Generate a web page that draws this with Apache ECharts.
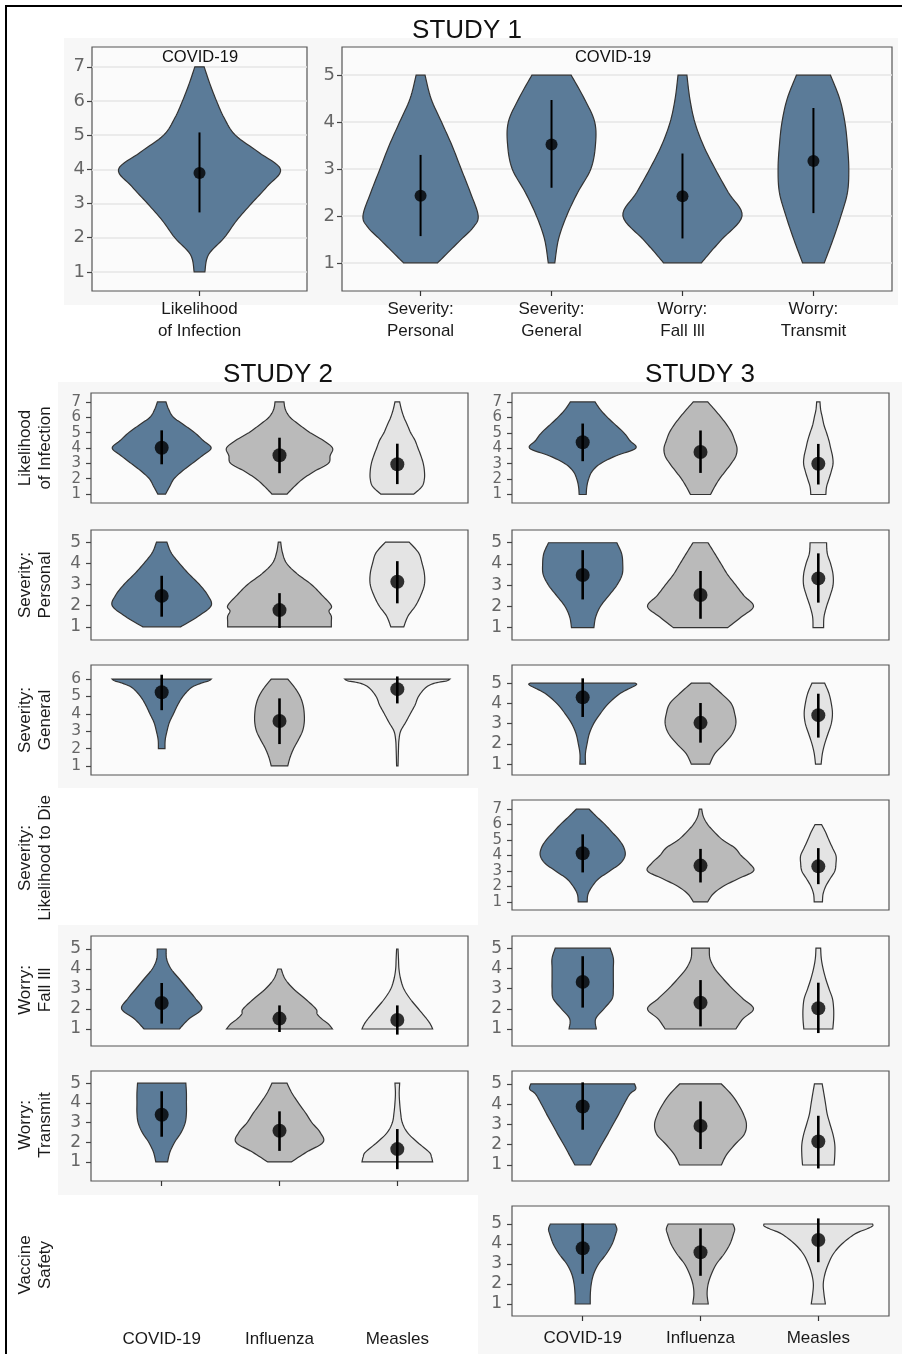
<!DOCTYPE html>
<html><head><meta charset="utf-8">
<script src="https://cdn.jsdelivr.net/npm/echarts@6/dist/echarts.min.js"></script>
<style>html,body{margin:0;padding:0;background:#fff}#c{width:902px;height:1354px}</style>
</head><body><div id="c"></div><script>
// ---------- DATA ----------
const groups = ['COVID-19', 'Influenza', 'Measles'];
const s1LeftCats = ['Likelihood\nof Infection'];
const s1RightCats = ['Severity:\nPersonal', 'Severity:\nGeneral', 'Worry:\nFall Ill', 'Worry:\nTransmit'];
const rowLabels = ['Likelihood\nof Infection', 'Severity:\nPersonal', 'Severity:\nGeneral', 'Severity:\nLikelihood to Die', 'Worry:\nFall Ill', 'Worry:\nTransmit', 'Vaccine\nSafety'];
const ticks7 = [1, 2, 3, 4, 5, 6, 7];
const ticks6 = [1, 2, 3, 4, 5, 6];
const ticks5 = [1, 2, 3, 4, 5];

// violin outlines: [response value, half width in category units]
const s1Like = [[1,.03],[1.5,.05],[2,.138],[2.5,.207],[3,.29],[3.5,.378],[4,.452],[4.5,.33],[5,.2],[5.5,.138],[6,.095],[6.5,.058],[7,.026]];
const s1SevP = [[1,.13],[1.25,.22],[1.5,.31],[1.75,.40],[2,.44],[2.5,.38],[3,.31],[3.5,.24],[4,.16],[4.5,.08],[5,.034]];
const s1SevG = [[1,.025],[1.5,.053],[2,.115],[2.5,.2],[3,.30],[3.5,.335],[4,.33],[4.5,.25],[5,.15]];
const s1Fall = [[1,.145],[1.25,.22],[1.5,.30],[2,.455],[2.5,.35],[3,.25],[3.5,.16],[4,.094],[4.5,.056],[5,.034]];
const s1Trans = [[1,.083],[1.5,.15],[2,.21],[2.5,.26],[3,.27],[3.5,.26],[4,.24],[4.5,.20],[5,.13]];
const s1LikeMean = [3.89], s1LikeLo = [2.74], s1LikeHi = [5.08];
const s1RightMean = [2.43, 3.52, 2.42, 3.17], s1RightLo = [1.57, 2.6, 1.52, 2.06], s1RightHi = [3.3, 4.47, 3.33, 4.30];

const s2LikeCovid = [[1,.033],[1.5,.068],[2,.105],[2.5,.175],[3,.26],[3.5,.345],[4,.42],[4.5,.35],[5,.28],[5.5,.19],[6,.10],[6.5,.06],[7,.036]];
const s2LikeFlu = [[1,.064],[1.5,.127],[2,.20],[2.5,.30],[3,.415],[3.5,.43],[4,.45],[4.5,.37],[5,.26],[5.5,.17],[6,.09],[6.5,.05],[7,.038]];
const s2LikeMeas = [[1,.14],[1.5,.21],[2,.23],[2.5,.23],[3,.22],[3.5,.20],[4,.175],[4.5,.15],[5,.113],[5.5,.085],[6,.056],[6.5,.035],[7,.02]];
const s2LikeMean = [4.02, 3.53, 2.94], s2LikeLo = [2.94, 2.36, 1.65], s2LikeHi = [5.15, 4.67, 4.28];

const s2SevPCovid = [[1,.16],[1.5,.31],[2,.42],[2.5,.39],[3,.32],[3.5,.23],[4,.15],[4.5,.08],[5,.044]];
const s2SevPFlu = [[1,.44],[1.25,.44],[1.5,.44],[1.75,.42],[2,.44],[2.5,.36],[3,.27],[3.5,.15],[4,.06],[4.5,.025],[5,.01]];
const s2SevPMeas = [[1,.055],[1.5,.09],[2,.155],[2.5,.20],[3,.23],[3.5,.23],[4,.21],[4.5,.18],[5,.10]];
const s2SevPMean = [2.46, 1.79, 3.13], s2SevPLo = [1.48, 0.95, 2.11], s2SevPHi = [3.41, 2.59, 4.10];

const s2SevGCovid = [[2,.028],[2.5,.03],[3,.045],[3.5,.065],[4,.10],[4.5,.135],[5,.18],[5.5,.25],[5.75,.33],[5.9,.40],[6,.42]];
const s2SevGFlu = [[1,.07],[1.5,.09],[2,.12],[2.5,.16],[3,.195],[3.5,.21],[4,.21],[4.5,.20],[5,.175],[5.5,.13],[6,.07]];
const s2SevGMeas = [[1,.006],[2,.01],[2.5,.014],[3,.028],[3.5,.07],[4,.11],[4.5,.15],[5,.18],[5.5,.24],[5.75,.31],[5.9,.42],[6,.445]];
const s2SevGMean = [5.24, 3.59, 5.42], s2SevGLo = [4.21, 2.26, 4.6], s2SevGHi = [6.25, 4.89, 6.15];

const s2FallCovid = [[1,.15],[1.5,.23],[2,.34],[2.5,.29],[3,.22],[3.5,.15],[4,.08],[4.5,.042],[5,.038]];
const s2FallFlu = [[1,.45],[1.25,.415],[1.5,.36],[1.75,.32],[2,.31],[2.5,.22],[3,.12],[3.5,.048],[4,.014]];
const s2FallMeas = [[1,.30],[1.25,.28],[1.5,.25],[2,.18],[2.5,.11],[3,.056],[3.5,.028],[4,.014],[4.5,.01],[5,.006]];
const s2FallMean = [2.3, 1.52, 1.45], s2FallLo = [1.27, 0.85, 0.72], s2FallHi = [3.3, 2.18, 2.18];

const s2TransCovid = [[1,.05],[1.5,.07],[2,.11],[2.5,.165],[3,.2],[3.5,.21],[4,.21],[4.5,.21],[5,.205]];
const s2TransFlu = [[1,.10],[1.5,.23],[2,.37],[2.5,.345],[3,.275],[3.5,.22],[4,.16],[4.5,.105],[5,.064]];
const s2TransMeas = [[1,.30],[1.25,.29],[1.5,.27],[2,.17],[2.5,.085],[3,.042],[3.5,.028],[4,.02],[4.5,.016],[5,.02]];
const s2TransMean = [3.40, 2.58, 1.65], s2TransLo = [2.28, 1.56, 0.63], s2TransHi = [4.59, 3.57, 2.67];

const s3LikeCovid = [[1,.03],[1.5,.035],[2,.05],[2.5,.08],[3,.15],[3.5,.28],[4,.45],[4.5,.40],[5,.35],[5.5,.28],[6,.21],[6.5,.15],[7,.105]];
const s3LikeFlu = [[1,.085],[1.5,.12],[2,.16],[2.5,.21],[3,.26],[3.5,.30],[4,.31],[4.5,.29],[5,.265],[5.5,.225],[6,.175],[6.5,.12],[7,.062]];
const s3LikeMeas = [[1,.064],[1.5,.07],[2,.09],[2.5,.11],[3,.125],[3.5,.12],[4,.105],[4.5,.09],[5,.07],[5.5,.048],[6,.034],[6.5,.02],[7,.014]];
const s3LikeMean = [4.39, 3.76, 2.99], s3LikeLo = [3.16, 2.4, 1.65], s3LikeHi = [5.6, 5.15, 4.28];

const s3SevPCovid = [[1,.095],[1.5,.11],[2,.15],[2.5,.22],[3,.29],[3.5,.335],[4,.34],[4.5,.33],[5,.29]];
const s3SevPFlu = [[1,.23],[1.5,.345],[2,.45],[2.5,.37],[3,.30],[3.5,.23],[4,.175],[4.5,.12],[5,.064]];
const s3SevPMeas = [[1,.045],[1.5,.048],[2,.07],[2.5,.10],[3,.125],[3.5,.125],[4,.105],[4.5,.076],[5,.07]];
const s3SevPMean = [3.48, 2.54, 3.32], s3SevPLo = [2.33, 1.42, 2.18], s3SevPHi = [4.65, 3.67, 4.5];

const s3SevGCovid = [[1,.024],[1.5,.023],[2,.037],[2.5,.056],[3,.093],[3.5,.15],[4,.22],[4.5,.32],[4.9,.45],[5,.445]];
const s3SevGFlu = [[1,.078],[1.5,.12],[2,.20],[2.5,.27],[3,.30],[3.5,.29],[4,.26],[4.5,.175],[5,.078]];
const s3SevGMeas = [[1,.024],[1.5,.034],[2,.054],[2.5,.082],[3,.11],[3.5,.12],[4,.11],[4.5,.09],[5,.054]];
const s3SevGMean = [4.3, 3.04, 3.42], s3SevGLo = [3.33, 2.06, 2.31], s3SevGHi = [5.24, 4.02, 4.48];

const s3DieCovid = [[1,.038],[1.5,.045],[2,.08],[2.5,.135],[3,.23],[3.5,.32],[4,.36],[4.5,.35],[5,.31],[5.5,.25],[6,.19],[6.5,.12],[7,.054]];
const s3DieFlu = [[1,.06],[1.5,.105],[2,.19],[2.5,.32],[3,.45],[3.5,.415],[4,.345],[4.5,.29],[5,.19],[5.5,.12],[6,.062],[6.5,.025],[7,.01]];
const s3DieMeas = [[1,.035],[1.5,.04],[2,.062],[2.5,.10],[3,.14],[3.5,.15],[4,.15],[4.5,.12],[5,.09],[5.5,.062],[6,.028]];
const s3DieMean = [4.15, 3.35, 3.3], s3DieLo = [2.91, 2.26, 2.15], s3DieHi = [5.37, 4.43, 4.48];

const s3FallCovid = [[1,.116],[1.5,.11],[2,.18],[2.5,.25],[3,.26],[3.5,.26],[4,.26],[4.5,.26],[5,.233]];
const s3FallFlu = [[1,.30],[1.5,.36],[2,.45],[2.5,.36],[3,.27],[3.5,.19],[4,.12],[4.5,.08],[5,.075]];
const s3FallMeas = [[1,.123],[1.5,.13],[2,.13],[2.5,.12],[3,.09],[3.5,.062],[4,.04],[4.5,.025],[5,.02]];
const s3FallMean = [3.33, 2.3, 2.03], s3FallLo = [2.06, 1.13, 0.8], s3FallHi = [4.6, 3.42, 3.29];

const s3TransCovid = [[1,.066],[1.5,.113],[2,.16],[2.5,.21],[3,.257],[3.5,.305],[4,.35],[4.5,.40],[4.75,.45],[5,.44]];
const s3TransFlu = [[1,.177],[1.5,.22],[2,.29],[2.5,.37],[3,.39],[3.5,.365],[4,.32],[4.5,.26],[5,.177]];
const s3TransMeas = [[1,.134],[1.5,.14],[2,.14],[2.5,.125],[3,.10],[3.5,.076],[4,.062],[4.5,.048],[5,.033]];
const s3TransMean = [3.89, 2.93, 2.16], s3TransLo = [2.74, 1.79, 0.83], s3TransHi = [5.08, 4.14, 3.43];

const s3VaxCovid = [[1,.064],[1.5,.065],[2,.073],[2.5,.093],[3,.135],[3.5,.2],[4,.25],[4.5,.28],[4.75,.29],[5,.275]];
const s3VaxFlu = [[1,.066],[1.5,.056],[2,.065],[2.5,.093],[3,.135],[3.5,.2],[4,.25],[4.5,.28],[4.75,.29],[5,.275]];
const s3VaxMeas = [[1,.06],[1.5,.048],[2,.042],[2.5,.056],[3,.085],[3.5,.127],[4,.2],[4.5,.31],[4.75,.41],[4.9,.46],[5,.46]];
const s3VaxMean = [3.79, 3.59, 4.2], s3VaxLo = [2.51, 2.41, 3.09], s3VaxHi = [5.03, 4.78, 5.28];

// ---------- STYLE / LAYOUT ----------
const BLUE = '#5b7b98', GREY = '#bababa', LIGHT = '#e4e4e4';
const C3 = [BLUE, GREY, LIGHT];
const FONT = '"Liberation Sans", Arial, Helvetica, sans-serif';
const TICKFONT = '"DejaVu Sans", "Liberation Sans", sans-serif';
const S2L = 91, S3L = 512, PW = 377, PH = 110;
const ROWT = [393, 530, 665, 800, 936, 1071, 1206];

const panels = [
  {l:92, t:47, w:215, h:244, ymin:0.44, ymax:7.58, yt:ticks7, cats:s1LeftCats, shapes:[s1Like], mean:s1LikeMean, lo:s1LikeLo, hi:s1LikeHi, colors:[BLUE], yf:18, ym:7, xl:true, xt:true, xm:7, gl:true, dot:12, bar:2},
  {l:342, t:47, w:550, h:244, ymin:0.40, ymax:5.6, yt:ticks5, cats:s1RightCats, shapes:[s1SevP, s1SevG, s1Fall, s1Trans], mean:s1RightMean, lo:s1RightLo, hi:s1RightHi, colors:[BLUE,BLUE,BLUE,BLUE], yf:18, ym:7, xl:true, xt:true, xm:7, gl:true, dot:12, bar:2},
  {l:S2L, t:ROWT[0], ymin:0.42, ymax:7.58, yt:ticks7, shapes:[s2LikeCovid,s2LikeFlu,s2LikeMeas], mean:s2LikeMean, lo:s2LikeLo, hi:s2LikeHi, yf:15},
  {l:S2L, t:ROWT[1], ymin:0.38, ymax:5.57, yt:ticks5, shapes:[s2SevPCovid,s2SevPFlu,s2SevPMeas], mean:s2SevPMean, lo:s2SevPLo, hi:s2SevPHi, yf:17},
  {l:S2L, t:ROWT[2], ymin:0.48, ymax:6.81, yt:ticks6, shapes:[s2SevGCovid,s2SevGFlu,s2SevGMeas], mean:s2SevGMean, lo:s2SevGLo, hi:s2SevGHi, yf:15.5},
  {l:S2L, t:ROWT[4], ymin:0.15, ymax:5.65, yt:ticks5, shapes:[s2FallCovid,s2FallFlu,s2FallMeas], mean:s2FallMean, lo:s2FallLo, hi:s2FallHi, yf:17},
  {l:S2L, t:ROWT[5], ymin:0.03, ymax:5.62, yt:ticks5, shapes:[s2TransCovid,s2TransFlu,s2TransMeas], mean:s2TransMean, lo:s2TransLo, hi:s2TransHi, yf:17, xl:true, xt:true, xm:147},
  {l:S3L, t:ROWT[0], ymin:0.45, ymax:7.58, yt:ticks7, shapes:[s3LikeCovid,s3LikeFlu,s3LikeMeas], mean:s3LikeMean, lo:s3LikeLo, hi:s3LikeHi, yf:15},
  {l:S3L, t:ROWT[1], ymin:0.42, ymax:5.6, yt:ticks5, shapes:[s3SevPCovid,s3SevPFlu,s3SevPMeas], mean:s3SevPMean, lo:s3SevPLo, hi:s3SevPHi, yf:17},
  {l:S3L, t:ROWT[2], ymin:0.46, ymax:5.9, yt:ticks5, shapes:[s3SevGCovid,s3SevGFlu,s3SevGMeas], mean:s3SevGMean, lo:s3SevGLo, hi:s3SevGHi, yf:17},
  {l:S3L, t:ROWT[3], ymin:0.48, ymax:7.59, yt:ticks7, shapes:[s3DieCovid,s3DieFlu,s3DieMeas], mean:s3DieMean, lo:s3DieLo, hi:s3DieHi, yf:15},
  {l:S3L, t:ROWT[4], ymin:0.16, ymax:5.6, yt:ticks5, shapes:[s3FallCovid,s3FallFlu,s3FallMeas], mean:s3FallMean, lo:s3FallLo, hi:s3FallHi, yf:17},
  {l:S3L, t:ROWT[5], ymin:0.21, ymax:5.64, yt:ticks5, shapes:[s3TransCovid,s3TransFlu,s3TransMeas], mean:s3TransMean, lo:s3TransLo, hi:s3TransHi, yf:17},
  {l:S3L, t:ROWT[6], ymin:0.40, ymax:5.9, yt:ticks5, shapes:[s3VaxCovid,s3VaxFlu,s3VaxMeas], mean:s3VaxMean, lo:s3VaxLo, hi:s3VaxHi, yf:17, xl:true, xt:true, xm:11}
];

function smoothShape(pts, seg) {
  const n = pts.length, out = [];
  if (n < 3) return pts.slice();
  const f = (a, b, c, d, t) => 0.5 * (2*b + (-a + c)*t + (2*a - 5*b + 4*c - d)*t*t + (-a + 3*b - 3*c + d)*t*t*t);
  for (let i = 0; i < n - 1; i++) {
    const p0 = pts[i === 0 ? 0 : i - 1], p1 = pts[i], p2 = pts[i + 1], p3 = pts[i + 2 < n ? i + 2 : n - 1];
    for (let k = 0; k < seg; k++) {
      const t = k / seg;
      out.push([f(p0[0], p1[0], p2[0], p3[0], t), Math.max(0.004, f(p0[1], p1[1], p2[1], p3[1], t))]);
    }
  }
  out.push(pts[n - 1]);
  return out;
}

const grids = [], xAxes = [], yAxes = [], series = [];
panels.forEach((p, gi) => {
  const n = p.shapes.length;
  const cats = p.cats || groups;
  const colors = p.colors || C3;
  const xTicks = cats.map((c, i) => i + 1);
  grids.push({left: p.l, top: p.t, width: p.w || PW, height: p.h || PH, show: true,
    backgroundColor: '#fbfbfb', borderColor: '#555', borderWidth: 1.2});
  xAxes.push({type: 'value', gridIndex: gi, min: 0.4, max: n + 0.6,
    axisLine: {show: false}, splitLine: {show: false},
    axisTick: {show: !!p.xt, customValues: xTicks, length: 5, lineStyle: {color: '#333', width: 1.2}},
    axisLabel: {show: !!p.xl, customValues: xTicks, margin: p.xm || 8, color: '#1a1a1a',
      fontSize: 17, fontFamily: FONT, lineHeight: 22,
      formatter: v => cats[Math.round(v) - 1] || ''}});
  yAxes.push({type: 'value', gridIndex: gi, min: p.ymin, max: p.ymax,
    axisLine: {show: false},
    splitLine: {show: !!p.gl, lineStyle: {color: '#e6e6e6', width: 1.5}},
    axisTick: {show: true, customValues: p.yt, length: 5, lineStyle: {color: '#444', width: 1.2}},
    axisLabel: {show: true, customValues: p.yt, margin: p.ym || 10, color: '#666', fontSize: p.yf, fontFamily: TICKFONT}});
  series.push({type: 'custom', xAxisIndex: gi, yAxisIndex: gi, silent: true, z: 2,
    data: p.mean.map((m, i) => [i + 1, m]),
    renderItem: (params, api) => {
      const i = params.dataIndex, xc = i + 1;
      const sm = smoothShape(p.shapes[i], 8);
      const right = sm.map(d => api.coord([xc + d[1], d[0]]));
      const left = sm.slice().reverse().map(d => api.coord([xc - d[1], d[0]]));
      return {type: 'polygon', shape: {points: right.concat(left)},
        style: {fill: colors[i], stroke: '#333', lineWidth: 1.2}};
    }});
  series.push({type: 'custom', xAxisIndex: gi, yAxisIndex: gi, silent: true, z: 3,
    data: p.mean.map((m, i) => [i + 1, p.lo[i], p.hi[i]]),
    encode: {x: 0, y: [1, 2]},
    renderItem: (params, api) => {
      const a = api.coord([api.value(0), api.value(1)]), b = api.coord([api.value(0), api.value(2)]);
      return {type: 'line', shape: {x1: a[0], y1: a[1], x2: b[0], y2: b[1]},
        style: {stroke: '#000', lineWidth: p.bar || 2.6}};
    }});
  series.push({type: 'scatter', xAxisIndex: gi, yAxisIndex: gi, silent: true, z: 4,
    symbol: 'circle', symbolSize: p.dot || 14, itemStyle: {color: '#000'},
    data: p.mean.map((m, i) => [i + 1, m])});
});

const rowY = [448, 585, 720, 858, 990, 1125, 1265];
const graphic = [
  {type: 'rect', z: -5, silent: true, shape: {x: 64, y: 38, width: 834, height: 267}, style: {fill: '#f7f7f7'}},
  {type: 'rect', z: -5, silent: true, shape: {x: 58, y: 382, width: 420, height: 406}, style: {fill: '#f7f7f7'}},
  {type: 'rect', z: -5, silent: true, shape: {x: 58, y: 925, width: 420, height: 270}, style: {fill: '#f7f7f7'}},
  {type: 'rect', z: -5, silent: true, shape: {x: 478, y: 382, width: 424, height: 972}, style: {fill: '#f7f7f7'}},
  {type: 'rect', z: 50, silent: true, shape: {x: 6, y: 6, width: 910, height: 1360}, style: {fill: 'none', stroke: '#000', lineWidth: 2}},
  {type: 'text', z: 50, x: 467, y: 31, style: {text: 'STUDY 1', font: '26px ' + FONT, fill: '#111', align: 'center', verticalAlign: 'middle'}},
  {type: 'text', z: 50, x: 278, y: 375, style: {text: 'STUDY 2', font: '26px ' + FONT, fill: '#111', align: 'center', verticalAlign: 'middle'}},
  {type: 'text', z: 50, x: 700, y: 375, style: {text: 'STUDY 3', font: '26px ' + FONT, fill: '#111', align: 'center', verticalAlign: 'middle'}},
  {type: 'text', z: 50, x: 200, y: 57, style: {text: 'COVID-19', font: '16.5px ' + FONT, fill: '#111', align: 'center', verticalAlign: 'middle'}},
  {type: 'text', z: 50, x: 613, y: 57, style: {text: 'COVID-19', font: '16.5px ' + FONT, fill: '#111', align: 'center', verticalAlign: 'middle'}}
];
rowLabels.forEach((lab, i) => {
  graphic.push({type: 'text', z: 50, x: 35, y: rowY[i], rotation: Math.PI / 2,
    style: {text: lab, font: '17px ' + FONT, fill: '#1a1a1a', align: 'center', verticalAlign: 'middle', lineHeight: 20}});
});

const chart = echarts.init(document.getElementById('c'), null, {renderer: 'canvas'});
chart.setOption({animation: false, backgroundColor: '#fff', grid: grids, xAxis: xAxes, yAxis: yAxes, series: series, graphic: graphic});
</script></body></html>
